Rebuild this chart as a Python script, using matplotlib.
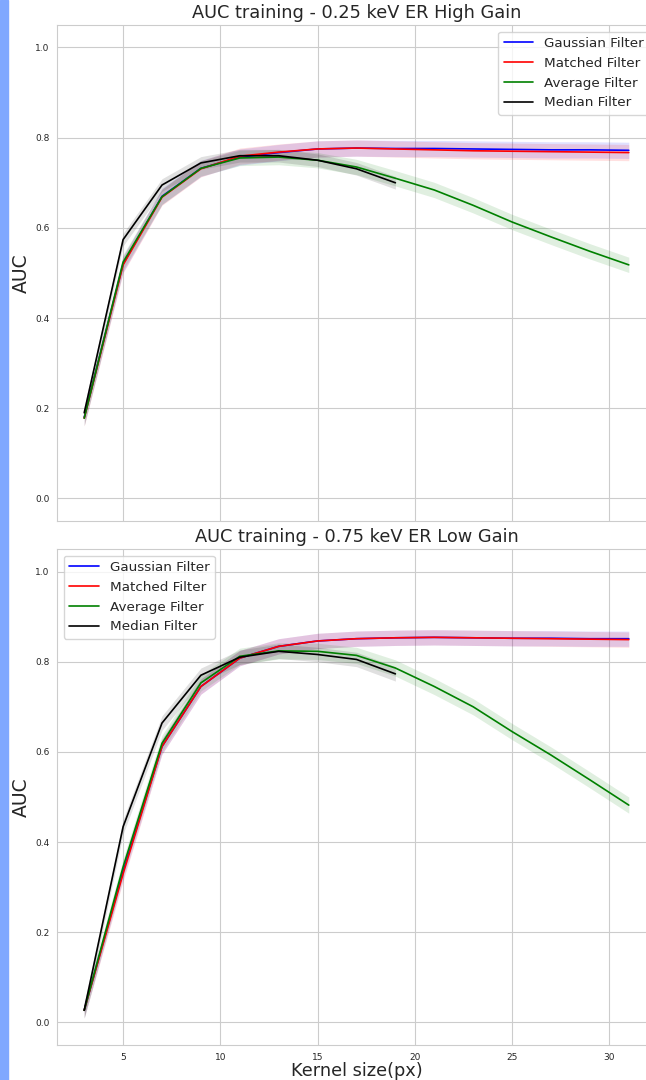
import matplotlib.pyplot as plt
import numpy as np
import seaborn as sns
from matplotlib.patches import Rectangle

kernel = [3, 5, 7, 9, 11, 13, 15, 17, 19, 21, 23, 25, 27, 29, 31]
kernel_median = [3, 5, 7, 9, 11, 13, 15, 17, 19]

labels = ["Gaussian Filter", "Matched Filter", "Average Filter", "Median Filter"]
colors = ["blue", "red", "green", "black"]

# 0.25 keV ER, high gain
hg_gauss = [0.180, 0.520, 0.670, 0.732, 0.757, 0.767, 0.775, 0.777, 0.776, 0.776, 0.775, 0.774, 0.773, 0.773, 0.772]
hg_matched = [0.178, 0.518, 0.668, 0.731, 0.759, 0.768, 0.775, 0.777, 0.775, 0.773, 0.771, 0.770, 0.769, 0.768, 0.767]
hg_average = [0.178, 0.524, 0.669, 0.732, 0.755, 0.757, 0.750, 0.735, 0.710, 0.684, 0.650, 0.613, 0.580, 0.548, 0.518]
hg_median = [0.190, 0.574, 0.695, 0.744, 0.760, 0.760, 0.750, 0.731, 0.700]
hg_spread = [0.018, 0.018, 0.017, 0.014]

# 0.75 keV ER, low gain
lg_gauss = [0.027, 0.335, 0.612, 0.745, 0.808, 0.834, 0.846, 0.851, 0.853, 0.854, 0.853, 0.852, 0.852, 0.851, 0.851]
lg_matched = [0.027, 0.330, 0.612, 0.745, 0.808, 0.834, 0.846, 0.851, 0.853, 0.854, 0.853, 0.852, 0.851, 0.850, 0.849]
lg_average = [0.027, 0.345, 0.619, 0.753, 0.812, 0.824, 0.823, 0.814, 0.786, 0.745, 0.700, 0.645, 0.593, 0.538, 0.482]
lg_median = [0.027, 0.434, 0.664, 0.770, 0.810, 0.823, 0.816, 0.805, 0.773]
lg_spread = [0.017, 0.017, 0.018, 0.016]

titles = ["AUC training - 0.25 keV ER High Gain", "AUC training - 0.75 keV ER Low Gain"]


def draw(ax, series, spread, title, legend_loc):
    for (xs, ys), sd, color, label in zip(series, spread, colors, labels):
        xs = np.asarray(xs)
        ys = np.asarray(ys)
        ax.fill_between(xs, ys - sd, ys + sd, color=color, alpha=0.12, linewidth=0)
        ax.plot(xs, ys, color=color, lw=1.2, label=label)
    ax.set_ylim(-0.05, 1.05)
    ax.set_yticks([0.0, 0.2, 0.4, 0.6, 0.8, 1.0])
    ax.set_xticks([5, 10, 15, 20, 25, 30])
    ax.set_title(title, fontsize=12.8, pad=5)
    ax.set_ylabel("AUC", fontsize=13.5, labelpad=3)
    ax.tick_params(axis="y", labelsize=6.5, pad=2)
    ax.tick_params(axis="x", labelsize=6.5, pad=2.5)
    ax.legend(loc=legend_loc, fontsize=9.7, borderaxespad=0.5, handlelength=2.2)


def main() -> None:
    sns.set_style("whitegrid")
    fig = plt.figure(figsize=(6.46, 10.8), dpi=100)
    fig.patches.append(Rectangle((0, 0), 8 / 646, 1, transform=fig.transFigure,
                                 color="#80a8ff", zorder=0))

    ax_top = fig.add_axes([0.0882, 0.5176, 0.9273, 0.4593])
    ax_bot = fig.add_axes([0.0882, 0.0324, 0.9273, 0.4593])

    draw(ax_top,
         [(kernel, hg_gauss), (kernel, hg_matched), (kernel, hg_average), (kernel_median, hg_median)],
         hg_spread, titles[0], "upper right")
    draw(ax_bot,
         [(kernel, lg_gauss), (kernel, lg_matched), (kernel, lg_average), (kernel_median, lg_median)],
         lg_spread, titles[1], "upper left")
    ax_top.set_xticklabels([])
    ax_bot.set_xlabel("Kernel size(px)", fontsize=12.8, labelpad=0)

    fig.savefig("out.png", dpi=100)
    plt.close(fig)


if __name__ == "__main__":
    main()
